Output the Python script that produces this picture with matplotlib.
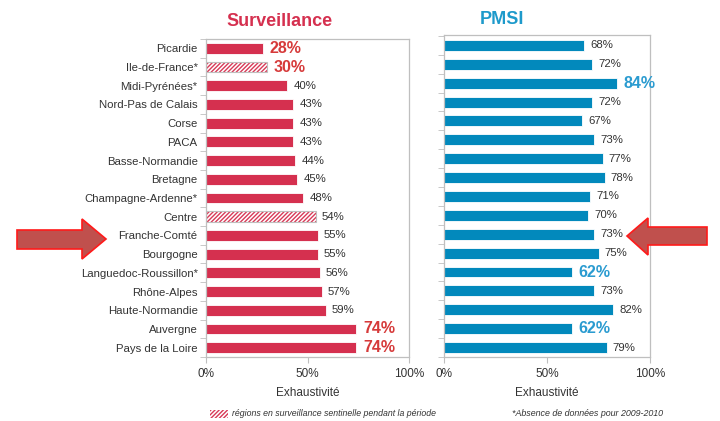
import matplotlib
matplotlib.use("Agg")
import matplotlib.pyplot as plt
from matplotlib.patches import Polygon, Rectangle
import numpy as np

plt.rcParams['font.family'] = ['Liberation Sans', 'DejaVu Sans']
plt.rcParams['hatch.linewidth'] = 1.0

regions = ["Picardie", "Ile-de-France*", "Midi-Pyrénées*", "Nord-Pas de Calais", "Corse",
           "PACA", "Basse-Normandie", "Bretagne", "Champagne-Ardenne*", "Centre",
           "Franche-Comté", "Bourgogne", "Languedoc-Roussillon*", "Rhône-Alpes",
           "Haute-Normandie", "Auvergne", "Pays de la Loire"]
surveillance = [28, 30, 40, 43, 43, 43, 44, 45, 48, 54, 55, 55, 56, 57, 59, 74, 74]
pmsi = [68, 72, 84, 72, 67, 73, 77, 78, 71, 70, 73, 75, 62, 73, 82, 62, 79]
sentinel = ["Ile-de-France*", "Centre"]
surv_highlight = [28, 30, 74]
pmsi_highlight = [84, 62]
xticks = [0, 50, 100]
xticklabels = ["0%", "50%", "100%"]

RED = "#D5304F"
HATCH_RED = "#D83A58"
BLUE = "#0289BC"
GREY = "#BFBFBF"
TXT = "#333333"

fig = plt.figure(figsize=(7.2, 4.21), dpi=100)
W, H = 720, 421

def fx(x):
    return x / W

def fy(y):
    return 1 - y / H

ax1 = fig.add_axes([fx(206), fy(357), fx(409) - fx(206), fy(39) - fy(357)])
ax2 = fig.add_axes([fx(444), fy(357), fx(650) - fx(444), fy(35) - fy(357)])

y = np.arange(len(regions))

def style(ax, show_labels, top_pad):
    ax.set_xlim(0, 100)
    ax.set_ylim(len(regions) - 0.52, -top_pad)
    for s in ax.spines.values():
        s.set_color(GREY)
        s.set_linewidth(0.9)
    ax.set_xticks(xticks)
    ax.set_xticklabels(xticklabels, fontsize=8.5, color=TXT)
    ax.tick_params(axis='x', length=4, color=GREY, pad=4)
    ax.set_yticks(np.arange(len(regions) + 1) - 0.5, minor=True)
    ax.tick_params(axis='y', which='minor', length=4, color=GREY)
    ax.set_yticks(y)
    ax.tick_params(axis='y', which='major', length=0, pad=6)
    if show_labels:
        ax.set_yticklabels(regions, fontsize=8.2, color=TXT)
    else:
        ax.set_yticklabels([])
    ax.set_xlabel("Exhaustivité", fontsize=8.5, color=TXT, labelpad=5)

# Surveillance
for i, (r, v) in enumerate(zip(regions, surveillance)):
    if r in sentinel:
        ax1.barh(i, v, height=0.58, color="white", edgecolor=HATCH_RED, hatch="////////", linewidth=0)
        ax1.barh(i, v, height=0.58, color="none", edgecolor=GREY, linewidth=0.8)
    else:
        ax1.barh(i, v, height=0.58, color=RED, edgecolor="white", linewidth=0.6)
    if v in surv_highlight:
        ax1.text(v + 3.5, i, f"{v}%", va="center", ha="left", fontsize=11.5,
                 fontweight="bold", color="#D63A3A")
    else:
        ax1.text(v + 3, i, f"{v}%", va="center", ha="left", fontsize=8.2, color=TXT)
style(ax1, True, 0.43)

# PMSI
for i, v in enumerate(pmsi):
    ax2.barh(i, v, height=0.58, color=BLUE, edgecolor="white", linewidth=0.6)
    if v in pmsi_highlight:
        ax2.text(v + 3, i, f"{v}%", va="center", ha="left", fontsize=11.5,
                 fontweight="bold", color="#2A9BD0")
    else:
        ax2.text(v + 3, i, f"{v}%", va="center", ha="left", fontsize=8.2, color=TXT)
style(ax2, False, 0.55)

# Titles
fig.text(fx(280), fy(21), "Surveillance", ha="center", va="center", fontsize=13,
         fontweight="bold", color=RED)
fig.text(fx(502), fy(20), "PMSI", ha="center", va="center", fontsize=13,
         fontweight="bold", color="#1E9ACB")

# Arrows
ARROW_FC = "#C0504D"
left_arrow = [(17, 230), (82, 230), (82, 219), (106, 239), (82, 259), (82, 249), (17, 249)]
right_arrow = [(707, 227), (648, 227), (648, 218), (627, 236), (648, 255), (648, 245), (707, 245)]
for pts in (left_arrow, right_arrow):
    fig.patches.append(Polygon([(fx(a), fy(b)) for a, b in pts], closed=True,
                               transform=fig.transFigure, facecolor=ARROW_FC,
                               edgecolor="#FF1A1A", linewidth=1.2))

# Footnotes
fig.patches.append(Rectangle((fx(210), fy(418)), fx(228) - fx(210), fy(410) - fy(418),
                             transform=fig.transFigure, facecolor="white",
                             edgecolor=HATCH_RED, hatch="////////", linewidth=0))
fig.text(fx(232), fy(414), "régions en surveillance sentinelle pendant la période",
         ha="left", va="center", fontsize=6.3, style="italic", color=TXT)
fig.text(fx(512), fy(414), "*Absence de données pour 2009-2010",
         ha="left", va="center", fontsize=6.4, style="italic", color=TXT)

fig.savefig("out.png", dpi=100)
